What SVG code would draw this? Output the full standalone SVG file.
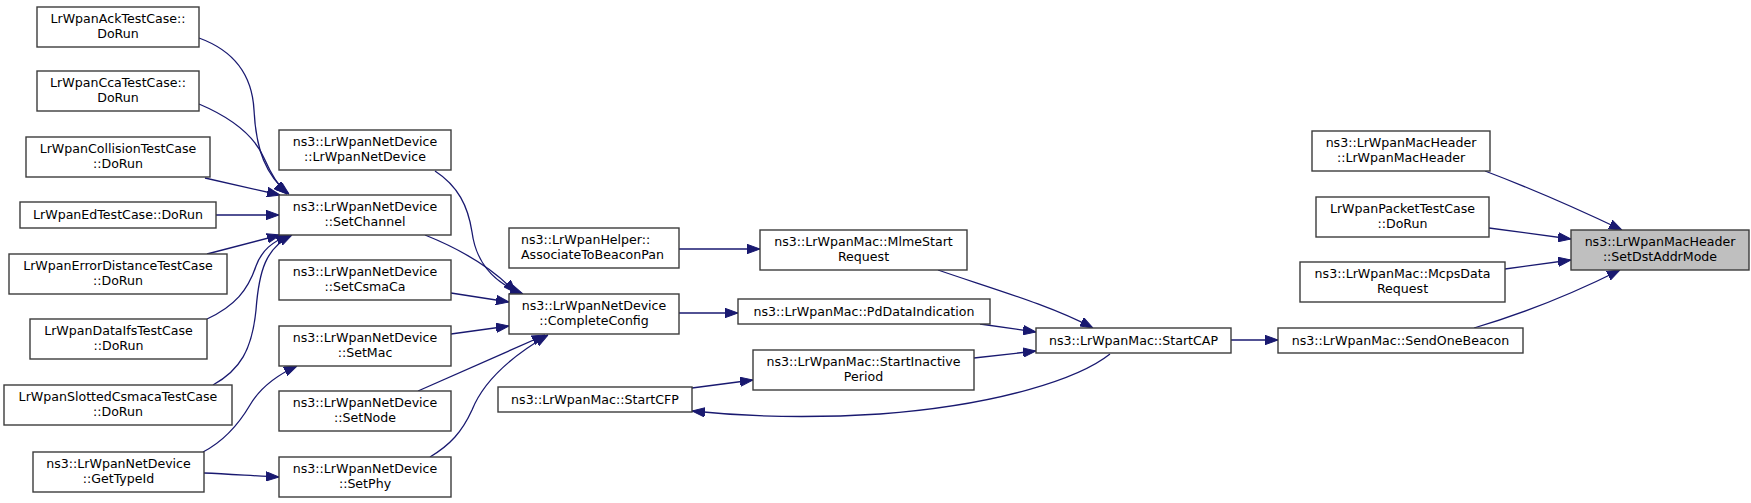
<svg xmlns="http://www.w3.org/2000/svg" width="1751" height="503" viewBox="0 0 1751 503">
<style>
.n rect{fill:#ffffff;stroke:#3c3c3c;stroke-width:1.4}
.n.h rect{fill:#bfbfbf}
.n text{font-family:"DejaVu Sans",sans-serif;font-size:12.6px;fill:#000;text-anchor:middle}
.n text.l{text-anchor:start}
#edges path{fill:none;stroke:#191970;stroke-width:1.3;marker-end:url(#ah)}
</style>
<defs>
<marker id="ah" viewBox="0 0 13 10" markerUnits="userSpaceOnUse" markerWidth="13" markerHeight="10" refX="13" refY="5" orient="auto">
<path d="M0,0.3 L13,5 L0,9.7 z" fill="#191970" stroke="#191970" stroke-width="1"/>
</marker>
</defs>
<rect width="1751" height="503" fill="#ffffff"/>
<g id="edges">
<path d="M199,38 C232,50 252,72 254,110 C256,150 266,176 289,194"/>
<path d="M199,104 C232,118 254,135 264,158 C272,176 278,186 287,194"/>
<path d="M205,178 L280,195"/>
<path d="M216,215 L279,215"/>
<path d="M207,254 L280,235"/>
<path d="M207,319 C235,306 248,290 256,266 C262,250 272,242 289,235"/>
<path d="M213,385 C240,370 252,350 256,310 C259,270 266,248 292,235"/>
<path d="M203,452 C226,440 240,422 250,405 C260,388 275,376 297,366"/>
<path d="M204,473 C230,474 255,476 279,477"/>
<path d="M435,171 C458,186 468,206 472,232 C476,262 492,282 523,294"/>
<path d="M425,235 C455,247 490,265 516,293"/>
<path d="M451,293 L509,302"/>
<path d="M451,334 L509,326"/>
<path d="M418,391 L545,335"/>
<path d="M430,457 C450,445 462,432 472,410 C482,385 505,360 548,335"/>
<path d="M679,249 L760,249"/>
<path d="M679,313 L738,313"/>
<path d="M938,270 C990,288 1050,305 1093,328"/>
<path d="M980,324 L1036,332"/>
<path d="M974,358 L1036,351"/>
<path d="M1110,354 C1080,378 1000,405 880,414 C800,419 740,416 692,411"/>
<path d="M692,388 L753,380"/>
<path d="M1231,340 L1278,340"/>
<path d="M1485,171 C1530,188 1580,210 1622,230"/>
<path d="M1489,228 L1571,239"/>
<path d="M1505,269 L1571,260"/>
<path d="M1474,328 C1525,313 1580,290 1620,270"/>
</g>
<g id="ack" class="n"><rect x="37" y="7" width="162" height="40"/><text x="118" y="23">LrWpanAckTestCase::</text><text x="118" y="38">DoRun</text></g>
<g id="cca" class="n"><rect x="37" y="71" width="162" height="40"/><text x="118" y="87">LrWpanCcaTestCase::</text><text x="118" y="102">DoRun</text></g>
<g id="collision" class="n"><rect x="26" y="137" width="184" height="40"/><text x="118" y="153">LrWpanCollisionTestCase</text><text x="118" y="168">::DoRun</text></g>
<g id="ed" class="n"><rect x="20" y="202" width="196" height="26"/><text x="118" y="219">LrWpanEdTestCase::DoRun</text></g>
<g id="errdist" class="n"><rect x="9" y="254" width="218" height="40"/><text x="118" y="270">LrWpanErrorDistanceTestCase</text><text x="118" y="285">::DoRun</text></g>
<g id="dataifs" class="n"><rect x="30" y="319" width="177" height="40"/><text x="118.5" y="335">LrWpanDataIfsTestCase</text><text x="118.5" y="350">::DoRun</text></g>
<g id="slotted" class="n"><rect x="4" y="385" width="228" height="40"/><text x="118" y="401">LrWpanSlottedCsmacaTestCase</text><text x="118" y="416">::DoRun</text></g>
<g id="gettypeid" class="n"><rect x="33" y="452" width="171" height="40"/><text x="118.5" y="468">ns3::LrWpanNetDevice</text><text x="118.5" y="483">::GetTypeId</text></g>
<g id="lrwpannetdevice" class="n"><rect x="279" y="130" width="172" height="40"/><text x="365" y="146">ns3::LrWpanNetDevice</text><text x="365" y="161">::LrWpanNetDevice</text></g>
<g id="setchannel" class="n"><rect x="279" y="195" width="172" height="40"/><text x="365" y="211">ns3::LrWpanNetDevice</text><text x="365" y="226">::SetChannel</text></g>
<g id="setcsmaca" class="n"><rect x="279" y="260" width="172" height="40"/><text x="365" y="276">ns3::LrWpanNetDevice</text><text x="365" y="291">::SetCsmaCa</text></g>
<g id="setmac" class="n"><rect x="279" y="326" width="172" height="40"/><text x="365" y="342">ns3::LrWpanNetDevice</text><text x="365" y="357">::SetMac</text></g>
<g id="setnode" class="n"><rect x="279" y="391" width="172" height="40"/><text x="365" y="407">ns3::LrWpanNetDevice</text><text x="365" y="422">::SetNode</text></g>
<g id="setphy" class="n"><rect x="279" y="457" width="172" height="40"/><text x="365" y="473">ns3::LrWpanNetDevice</text><text x="365" y="488">::SetPhy</text></g>
<g id="associate" class="n"><rect x="509" y="228" width="170" height="40"/><text class="l" x="521" y="244">ns3::LrWpanHelper::</text><text class="l" x="521" y="259">AssociateToBeaconPan</text></g>
<g id="completeconfig" class="n"><rect x="509" y="294" width="170" height="40"/><text x="594" y="310">ns3::LrWpanNetDevice</text><text x="594" y="325">::CompleteConfig</text></g>
<g id="startcfp" class="n"><rect x="498" y="387" width="194" height="25"/><text x="595" y="404">ns3::LrWpanMac::StartCFP</text></g>
<g id="mlmestart" class="n"><rect x="760" y="230" width="207" height="40"/><text x="863.5" y="246">ns3::LrWpanMac::MlmeStart</text><text x="863.5" y="261">Request</text></g>
<g id="pddataindication" class="n"><rect x="738" y="299" width="252" height="25"/><text x="864" y="316">ns3::LrWpanMac::PdDataIndication</text></g>
<g id="startinactive" class="n"><rect x="753" y="350" width="221" height="40"/><text x="863.5" y="366">ns3::LrWpanMac::StartInactive</text><text x="863.5" y="381">Period</text></g>
<g id="startcap" class="n"><rect x="1036" y="328" width="195" height="25"/><text x="1133.5" y="345">ns3::LrWpanMac::StartCAP</text></g>
<g id="sendonebeacon" class="n"><rect x="1278" y="328" width="245" height="25"/><text x="1400.5" y="345">ns3::LrWpanMac::SendOneBeacon</text></g>
<g id="macheader" class="n"><rect x="1312" y="131" width="178" height="40"/><text x="1401" y="147">ns3::LrWpanMacHeader</text><text x="1401" y="162">::LrWpanMacHeader</text></g>
<g id="packettest" class="n"><rect x="1316" y="197" width="173" height="40"/><text x="1402.5" y="213">LrWpanPacketTestCase</text><text x="1402.5" y="228">::DoRun</text></g>
<g id="mcpsdata" class="n"><rect x="1300" y="262" width="205" height="40"/><text x="1402.5" y="278">ns3::LrWpanMac::McpsData</text><text x="1402.5" y="293">Request</text></g>
<g id="setdstaddrmode" class="n h"><rect x="1571" y="230" width="178" height="40"/><text x="1660" y="246">ns3::LrWpanMacHeader</text><text x="1660" y="261">::SetDstAddrMode</text></g>
</svg>
